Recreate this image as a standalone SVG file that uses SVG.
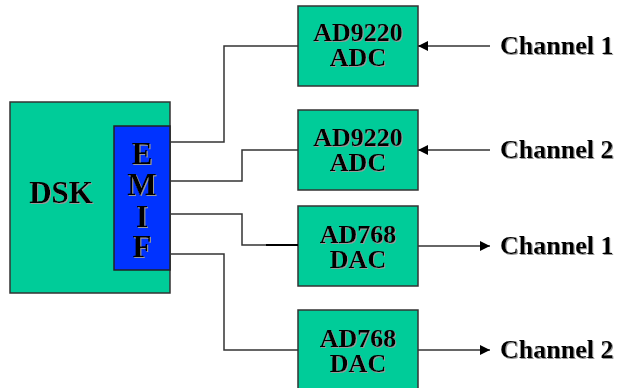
<svg xmlns="http://www.w3.org/2000/svg" width="618" height="388" viewBox="0 0 618 388">
<style>
.box{fill:#00CC99;stroke:#333;stroke-width:1.5}
.emif{fill:#0033FF;stroke:#222;stroke-width:1.5}
.t{font-family:"Liberation Serif","Times New Roman",serif;font-weight:bold;fill:#000;filter:url(#sh)}
.lbl{font-size:26px;text-anchor:middle}
.w{fill:none;stroke:#333;stroke-width:1.5}
</style>
<defs>
<filter id="sh" x="-10%" y="-10%" width="130%" height="130%">
<feDropShadow dx="1" dy="1" stdDeviation="0.3" flood-color="#999"/>
</filter>
<marker id="ah" viewBox="0 0 10 10" refX="10" refY="5" markerWidth="10" markerHeight="10" markerUnits="userSpaceOnUse" orient="auto">
<path d="M0,0 L10,5 L0,10 Z" fill="#000"/>
</marker>
</defs>
<g id="dsk">
<rect class="box" x="10" y="102" width="160" height="191"/>
<text class="t" x="61" y="203" font-size="31" text-anchor="middle">DSK</text>
</g>
<g id="emif">
<rect class="emif" x="114" y="126" width="56" height="144"/>
<text class="t" x="142" y="164" font-size="31" text-anchor="middle">E</text>
<text class="t" x="142" y="195" font-size="31" text-anchor="middle">M</text>
<text class="t" x="142" y="227" font-size="31" text-anchor="middle">I</text>
<text class="t" x="142" y="257" font-size="31" text-anchor="middle">F</text>
</g>
<g id="adc1">
<rect class="box" x="298" y="6" width="120" height="80"/>
<text class="t lbl" x="358" y="41">AD9220</text>
<text class="t lbl" x="358" y="66">ADC</text>
</g>
<g id="adc2">
<rect class="box" x="298" y="110" width="120" height="80"/>
<text class="t lbl" x="358" y="146">AD9220</text>
<text class="t lbl" x="358" y="171">ADC</text>
</g>
<g id="dac1">
<rect class="box" x="298" y="206" width="120" height="80"/>
<text class="t lbl" x="358" y="243">AD768</text>
<text class="t lbl" x="358" y="268">DAC</text>
</g>
<g id="dac2">
<rect class="box" x="298" y="310" width="120" height="84"/>
<text class="t lbl" x="358" y="347">AD768</text>
<text class="t lbl" x="358" y="372">DAC</text>
</g>
<g id="connectors">
<polyline class="w" points="170,142 224,142 224,46 298,46"/>
<polyline class="w" points="170,181 242,181 242,150 298,150"/>
<polyline class="w" points="170,214 242,214 242,245 298,245"/>
<line x1="266" y1="245" x2="298" y2="245" stroke="#000" stroke-width="2"/>
<polyline class="w" points="170,254 224,254 224,350 298,350"/>
<line class="w" x1="490" y1="46" x2="418" y2="46" marker-end="url(#ah)"/>
<line class="w" x1="490" y1="150" x2="418" y2="150" marker-end="url(#ah)"/>
<line class="w" x1="418" y1="246" x2="490" y2="246" marker-end="url(#ah)"/>
<line class="w" x1="418" y1="350" x2="490" y2="350" marker-end="url(#ah)"/>
</g>
<g id="labels">
<text class="t" x="500" y="54" font-size="26">Channel 1</text>
<text class="t" x="500" y="158" font-size="26">Channel 2</text>
<text class="t" x="500" y="254" font-size="26">Channel 1</text>
<text class="t" x="500" y="358" font-size="26">Channel 2</text>
</g>
</svg>
